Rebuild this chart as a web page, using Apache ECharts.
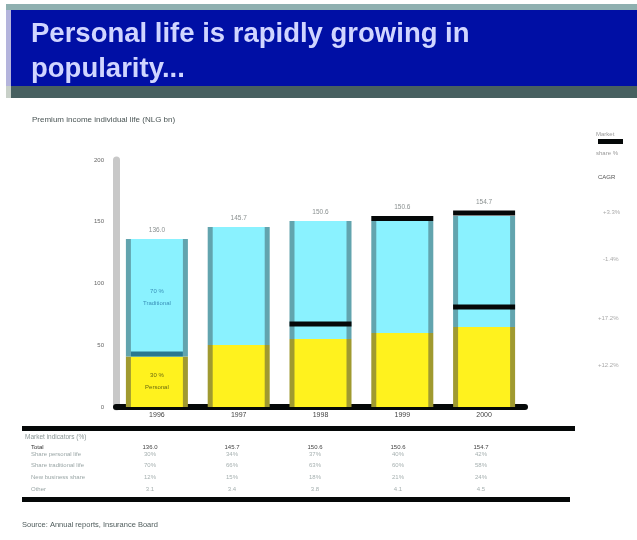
<!DOCTYPE html>
<html><head><meta charset="utf-8">
<script src="https://cdn.jsdelivr.net/npm/echarts@6/dist/echarts.min.js"></script>
<style>html,body{margin:0;padding:0;background:#fff}#c{width:637px;height:540px}</style>
</head><body><div id="c"></div>
<script>
// ---- data ----
const categories = ['1996', '1997', '1998', '1999', '2000'];
const yellowVals = [40.9, 50.2, 55.1, 59.9, 64.8];   // personal life
const blueVals   = [95.1, 95.5, 95.5, 90.7, 89.9];   // traditional
const markerTopVals = [null, null, null, 152.6, 157.1];
const markerMidVals = [42.9, null, 67.2, null, 81.0];
const yTicks = [0, 50, 100, 150, 200];
const segmentNames = ['Personal', 'Traditional'];
const titleLines = ['Personal life is rapidly growing in', 'popularity...'];
const subtitle = 'Premium income individual life (NLG bn)';
const legendTexts = ['Market', 'share %', 'CAGR'];
const cagrTexts = ['+3.3%', '-1.4%', '+17.2%', '+12.2%'];
const tableHeader = 'Market indicators (%)';
const tableLabels = ['Total', 'Share personal life', 'Share traditional life', 'New business share', 'Other'];
const tableValues = [
  ['136.0', '145.7', '150.6', '150.6', '154.7'],
  ['30%', '34%', '37%', '40%', '42%'],
  ['70%', '66%', '63%', '60%', '58%'],
  ['12%', '15%', '18%', '21%', '24%'],
  ['3.1', '3.4', '3.8', '4.1', '4.5']
];
const footer = 'Source: Annual reports, Insurance Board';

// ---- chart ----
const FONT = '"Liberation Sans", Arial, sans-serif';
const chart = echarts.init(document.getElementById('c'), null, {renderer: 'canvas'});

const tableColX = [150, 232, 315, 398, 481];
const tableRowY = [447, 454, 465, 477, 489];
const graphic = [
  {type: 'rect', shape: {x: 6, y: 4, width: 631, height: 6}, style: {fill: '#8fb0b0'}},
  {type: 'rect', shape: {x: 6, y: 10, width: 5, height: 76}, style: {fill: '#b4b4dc'}},
  {type: 'rect', shape: {x: 11, y: 10, width: 626, height: 76}, style: {fill: '#000fa5'}},
  {type: 'rect', shape: {x: 6, y: 86, width: 5, height: 12}, style: {fill: '#c8d0c8'}},
  {type: 'rect', shape: {x: 11, y: 86, width: 626, height: 12}, style: {fill: '#476060'}},
  {type: 'text', x: 31, y: 17, style: {text: titleLines.join('\n'), fill: '#d0d5ff', font: 'bold 27.5px ' + FONT, lineHeight: 35}},
  {type: 'text', x: 32, y: 116, style: {text: subtitle, fill: '#4a5555', font: '8px ' + FONT}},
  // right legend
  {type: 'text', x: 596, y: 131, style: {text: legendTexts[0], fill: '#999', font: '6px ' + FONT}},
  {type: 'rect', shape: {x: 598, y: 139, width: 25, height: 5}, style: {fill: '#050808'}},
  {type: 'text', x: 596, y: 150, style: {text: legendTexts[1], fill: '#999', font: '6px ' + FONT}},
  {type: 'text', x: 598, y: 174, style: {text: legendTexts[2], fill: '#555', font: '6px ' + FONT}},
  {type: 'text', x: 603, y: 209, style: {text: cagrTexts[0], fill: '#aaa', font: '6px ' + FONT}},
  {type: 'text', x: 603, y: 256, style: {text: cagrTexts[1], fill: '#aaa', font: '6px ' + FONT}},
  {type: 'text', x: 598, y: 315, style: {text: cagrTexts[2], fill: '#aaa', font: '6px ' + FONT}},
  {type: 'text', x: 598, y: 362, style: {text: cagrTexts[3], fill: '#aaa', font: '6px ' + FONT}},
  // table
  {type: 'rect', shape: {x: 22, y: 426, width: 553, height: 5}, style: {fill: '#050808'}},
  {type: 'text', x: 25, y: 434, style: {text: tableHeader, fill: '#8a9696', font: '6.5px ' + FONT}},
  {type: 'rect', shape: {x: 22, y: 497, width: 548, height: 5}, style: {fill: '#050808'}},
  {type: 'text', x: 22, y: 521, style: {text: footer, fill: '#4f5c5c', font: '7.5px ' + FONT}}
];
tableLabels.forEach((lab, r) => {
  graphic.push({type: 'text', x: 31, y: tableRowY[r] - 3, style: {text: lab, fill: r === 0 ? '#333' : '#9aa6a6', font: '6px ' + FONT}});
  tableValues[r].forEach((v, c) => {
    graphic.push({type: 'text', x: tableColX[c], y: tableRowY[r] - 3, style: {text: v, fill: r === 0 ? '#444' : '#a6b0b0', font: '6px ' + FONT, align: 'center'}});
  });
});

const total = i => yellowVals[i] + blueVals[i];

chart.setOption({
  animation: false,
  backgroundColor: '#ffffff',
  textStyle: {fontFamily: FONT},
  grid: {left: 116, right: 112, top: 160, bottom: 133, containLabel: false},
  xAxis: [
    {type: 'category', data: categories, gridIndex: 0,
      axisLine: {lineStyle: {color: '#050808', width: 6}},
      axisTick: {show: false},
      axisLabel: {fontSize: 7, color: '#444', margin: 5}},
    {type: 'category', data: categories, gridIndex: 0, show: false}
  ],
  yAxis: {
    type: 'value', min: yTicks[0], max: yTicks[yTicks.length - 1], interval: yTicks[1] - yTicks[0],
    axisLine: {show: true, lineStyle: {color: '#c8c8c8', width: 7}},
    axisTick: {show: false},
    splitLine: {show: false},
    axisLabel: {fontSize: 6, color: '#666', margin: 12}
  },
  series: [
    // back bars (edge colours)
    {type: 'bar', xAxisIndex: 0, stack: 'back', barWidth: 62, data: yellowVals,
      itemStyle: {color: '#a09a30'}, silent: true, z: 2},
    {type: 'bar', xAxisIndex: 0, stack: 'back', barWidth: 62, z: 2, silent: true,
      data: blueVals.map((v, i) => ({
        value: v,
        label: {show: true, position: 'top', distance: markerTopVals[i] != null ? 10 : 5,
          fontSize: 6.5, color: '#8a9090', formatter: () => total(i).toFixed(1)}
      })),
      itemStyle: {color: '#62a4ae'}},
    // front bars (fill colours)
    {type: 'bar', xAxisIndex: 1, stack: 'front', barWidth: 52, z: 3, silent: true,
      data: yellowVals.map((v, i) => i === 0 ? {value: v, label: {show: true}} : v),
      itemStyle: {color: '#fff21e'},
      label: {show: false, position: 'inside', fontSize: 6, color: '#6a6a10', lineHeight: 12,
        formatter: p => Math.round(p.value / total(p.dataIndex) * 100) + ' %\n' + segmentNames[0]}},
    {type: 'bar', xAxisIndex: 1, stack: 'front', barWidth: 52, z: 3, silent: true,
      data: blueVals.map((v, i) => i === 0 ? {value: v, label: {show: true}} : v),
      itemStyle: {color: '#8af2ff'},
      label: {show: false, position: 'inside', fontSize: 6, color: '#3a90b8', lineHeight: 12,
        formatter: p => Math.round(p.value / total(p.dataIndex) * 100) + ' %\n' + segmentNames[1]}},
    // black marker lines
    {type: 'scatter', xAxisIndex: 0, data: markerTopVals, symbol: 'rect', symbolSize: [62, 5],
      itemStyle: {color: '#050808', opacity: 1}, z: 6, silent: true},
    {type: 'scatter', xAxisIndex: 0, symbol: 'rect', symbolSize: [62, 5],
      data: markerMidVals.map((v, i) => i === 0 ? {value: v, symbolSize: [52, 5], itemStyle: {color: '#2a7890'}} : v),
      itemStyle: {color: '#050808', opacity: 1}, z: 6, silent: true}
  ],
  graphic: graphic
});
</script>
</body></html>
